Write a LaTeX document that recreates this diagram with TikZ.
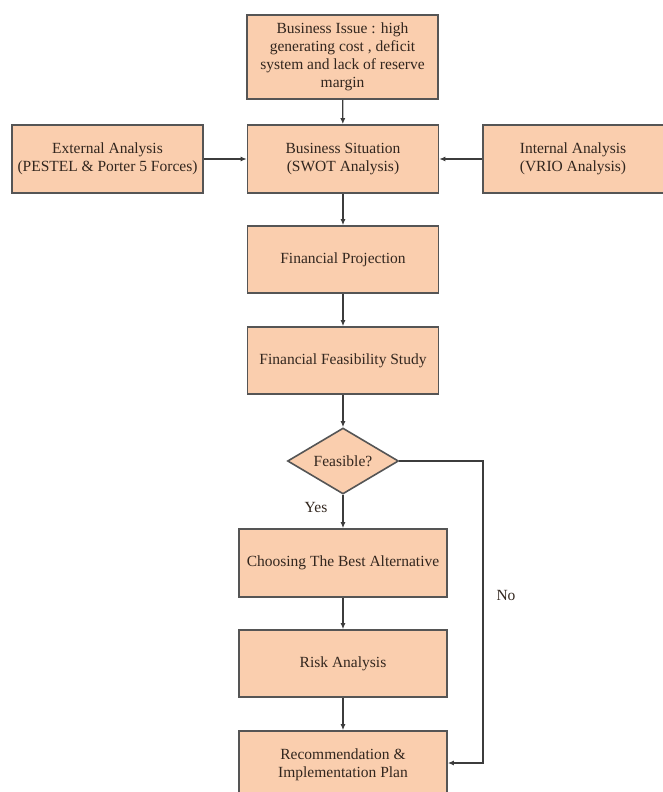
\documentclass[tikz,border=0pt]{standalone}
\usepackage{fontspec}
\setmainfont{Liberation Serif}
\usetikzlibrary{arrows.meta,shapes.geometric,calc}
\definecolor{boxfill}{RGB}{250,206,174}
\definecolor{boxline}{RGB}{85,85,85}
\definecolor{txt}{RGB}{50,38,30}
\definecolor{conn}{RGB}{60,60,60}
\begin{document}
\begin{tikzpicture}[x=1pt,y=-1pt,
  box/.style={draw=boxline,line width=1.6pt,fill=boxfill,text=txt,align=center,
    font=\fontsize{15.5}{18}\selectfont,inner sep=2pt},
  topbox/.style={box,minimum width=191pt,minimum height=67pt},
  lowbox/.style={box,minimum width=208pt,minimum height=67pt},
  decision/.style={diamond,aspect=1.68,draw=boxline,line width=1.6pt,fill=boxfill,text=txt,
    font=\fontsize{15.5}{18}\selectfont,inner sep=0pt,minimum width=111pt,minimum height=66pt},
  conn/.style={draw=conn,line width=1.2pt,-{Latex[length=6pt,width=5pt]}},
  lbl/.style={text=txt,font=\fontsize{15.5}{18}\selectfont}]
\useasboundingbox (0,0) rectangle (663,792);
\fill[white] (0,0) rectangle (663,792);
\clip (0,0) rectangle (663,792);
\node[topbox,minimum height=84pt] (issue) at (342.5,57) {Business Issue : high\\generating cost , deficit\\system and lack of reserve\\margin};
\node[topbox,minimum height=68pt] (sit) at (343,159) {Business Situation\\(SWOT Analysis)};
\node[topbox,minimum height=68pt] (ext) at (107.5,159) {External Analysis\\(PESTEL \& Porter 5 Forces)};
\node[topbox,minimum height=68pt,minimum width=192pt] (int) at (579,159) {};
\node[lbl,align=center] (intt) at (573,159) {Internal Analysis\\(VRIO Analysis)};
\node[topbox] (proj) at (343,259.5) {Financial Projection};
\node[topbox] (feas) at (343,360.5) {Financial Feasibility Study};
\node[decision] (dec) at (343,461) {Feasible?};
\node[lowbox,minimum height=68pt] (choose) at (343,563) {Choosing The Best Alternative};
\node[lowbox] (risk) at (343,663.5) {Risk Analysis};
\node[lowbox,minimum height=68pt] (rec) at (343,765) {Recommendation \&\\Implementation Plan};
\node[lbl] (yes) at (316,507) {Yes};
\node[lbl] (no) at (506,595) {No};
\coordinate (nc1) at (483,461);
\coordinate (nc2) at (483,763);
\draw[conn] (issue) -- (sit);
\draw[conn] (ext) -- (sit);
\draw[conn] (int) -- (sit);
\draw[conn] (sit) -- (proj);
\draw[conn] (proj) -- (feas);
\draw[conn] (feas) -- (dec);
\draw[conn] (dec) -- (choose);
\draw[conn] (choose) -- (risk);
\draw[conn] (risk) -- (rec);
\draw[conn] (dec.east) -- (nc1) -- (nc2) -- (nc2 -| rec.east);
\end{tikzpicture}
\end{document}
